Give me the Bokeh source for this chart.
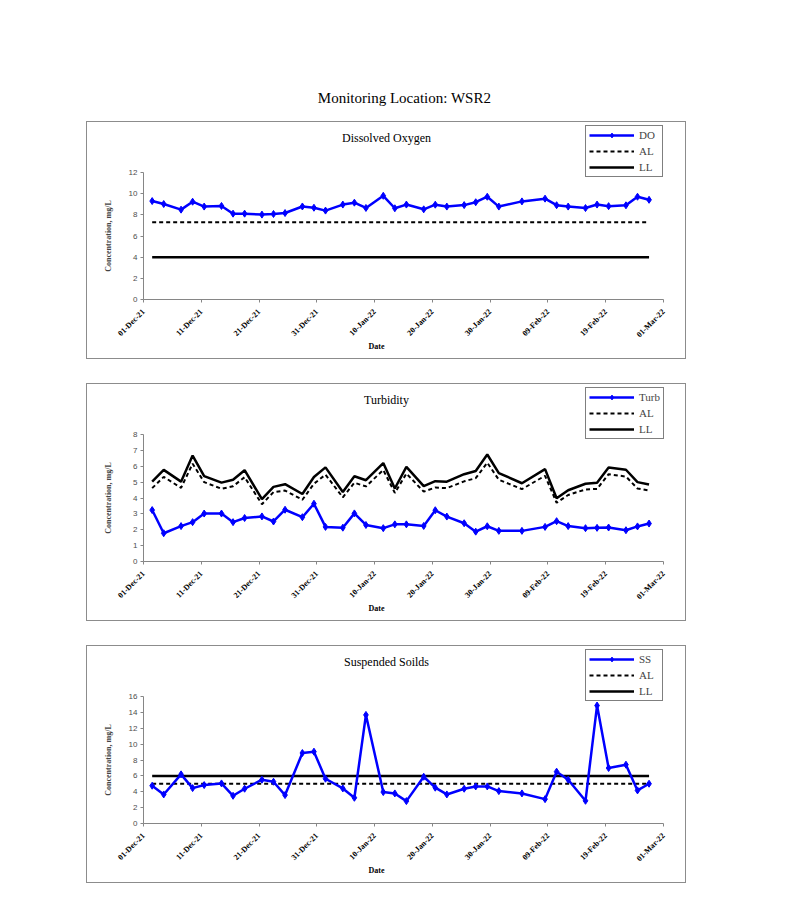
import math
import pandas as pd
from bokeh.plotting import figure
from bokeh.layouts import column, row
from bokeh.models import (Range1d, FixedTicker, DatetimeTickFormatter, Legend, LegendItem,
                          Label, Spacer, ColumnDataSource)
from bokeh.embed import file_html
from bokeh.resources import INLINE

# ---------------- data ----------------
PAGE_TITLE = "Monitoring Location: WSR2"

DATES = ["2021-12-02", "2021-12-04", "2021-12-07", "2021-12-09", "2021-12-11", "2021-12-14",
         "2021-12-16", "2021-12-18", "2021-12-21", "2021-12-23", "2021-12-25", "2021-12-28",
         "2021-12-30", "2022-01-01", "2022-01-04", "2022-01-06", "2022-01-08", "2022-01-11",
         "2022-01-13", "2022-01-15", "2022-01-18", "2022-01-20", "2022-01-22", "2022-01-25",
         "2022-01-27", "2022-01-29", "2022-01-31", "2022-02-04", "2022-02-08", "2022-02-10",
         "2022-02-12", "2022-02-15", "2022-02-17", "2022-02-19", "2022-02-22", "2022-02-24",
         "2022-02-26"]

DO = [9.30, 9.02, 8.49, 9.24, 8.78, 8.84, 8.11, 8.11, 8.02, 8.08, 8.17, 8.79,
      8.67, 8.40, 8.97, 9.15, 8.65, 9.80, 8.62, 8.97, 8.52, 8.96, 8.78, 8.92,
      9.19, 9.71, 8.78, 9.27, 9.53, 8.91, 8.78, 8.64, 8.97, 8.82, 8.90, 9.71, 9.42]
DO_AL = 7.3
DO_LL = 4.0

TURB = [3.24, 1.78, 2.23, 2.48, 3.02, 3.02, 2.48, 2.74, 2.84, 2.52, 3.26, 2.79,
        3.64, 2.18, 2.13, 3.03, 2.30, 2.10, 2.34, 2.34, 2.24, 3.23, 2.83, 2.41,
        1.88, 2.22, 1.93, 1.93, 2.18, 2.54, 2.23, 2.10, 2.12, 2.14, 1.97, 2.21, 2.39]
TURB_AL = [4.62, 5.33, 4.64, 6.16, 5.00, 4.58, 4.74, 5.31, 3.61, 4.37, 4.47, 3.89,
           4.90, 5.47, 4.04, 4.96, 4.73, 5.76, 4.32, 5.54, 4.40, 4.66, 4.62, 5.05,
           5.25, 6.22, 5.15, 4.56, 5.40, 3.70, 4.19, 4.54, 4.57, 5.50, 5.35, 4.60, 4.47]
TURB_LL = [5.03, 5.77, 5.03, 6.67, 5.38, 4.97, 5.15, 5.75, 3.93, 4.70, 4.87, 4.25,
           5.32, 5.93, 4.38, 5.37, 5.12, 6.20, 4.60, 5.96, 4.75, 5.06, 5.03, 5.50,
           5.70, 6.74, 5.57, 4.93, 5.82, 3.98, 4.49, 4.90, 4.96, 5.92, 5.78, 5.00, 4.85]

SS = [4.76, 3.66, 6.19, 4.46, 4.84, 5.05, 3.49, 4.38, 5.52, 5.26, 3.58, 8.88,
      9.05, 5.64, 4.42, 3.24, 13.68, 3.96, 3.79, 2.82, 5.89, 4.51, 3.66, 4.38,
      4.67, 4.67, 4.08, 3.79, 3.07, 6.53, 5.52, 2.86, 14.86, 6.99, 7.41, 4.17, 5.01]
SS_AL = 5.0
SS_LL = 6.0

X_START = "2021-12-01"
X_END = "2022-03-01"
X_TICKS = ["2021-12-01", "2021-12-11", "2021-12-21", "2021-12-31", "2022-01-10",
           "2022-01-20", "2022-01-30", "2022-02-09", "2022-02-19", "2022-03-01"]
DO_TICKS = [0, 2, 4, 6, 8, 10, 12]
TURB_TICKS = [0, 1, 2, 3, 4, 5, 6, 7, 8]
SS_TICKS = [0, 2, 4, 6, 8, 10, 12, 14, 16]

# ---------------- layout / style ----------------
BLUE = "#0000FF"
AXIS = "#868686"
SERIF = "Liberation Serif"
SANS = "Liberation Sans"
W, H = 600, 238                      # chart box (canvas) size
PL, PR, PT, PB = 56, 576, 50, 177    # plot area inside the canvas (px from left / top)


def ms(d):
    return pd.Timestamp(d).value / 1e6


def make_chart(title, name, vals, al, ll, ticks, ylab_standoff):
    # Excel date axis centres each daily value in the middle of its day slot
    xs = [pd.Timestamp(d) + pd.Timedelta(hours=12) for d in DATES]
    src = ColumnDataSource(dict(x=xs, v=vals, al=al, ll=ll))

    x0, x1 = ms(X_START), ms(X_END)
    kx = (PR - PL) / (x1 - x0)
    y0, y1 = ticks[0], ticks[-1]
    ky = (PB - PT) / (y1 - y0)
    p = figure(width=W, height=H, x_axis_type="datetime",
               x_range=Range1d(x0 - PL / kx, x1 + (W - PR) / kx),
               y_range=Range1d(y0 - (H - PB) / ky, y1 + PT / ky),
               output_backend="svg", toolbar_location=None, min_border=0)
    p.grid.visible = False
    p.outline_line_color = None
    p.background_fill_color = "white"
    p.border_fill_color = "white"
    p.styles = {"border": "1px solid #8c8c8c"}

    ll_r = p.line("x", "ll", source=src, line_color="black", line_width=2.5)
    al_r = p.line("x", "al", source=src, line_color="black", line_width=2,
                  line_dash="4 3")
    v_l = p.line("x", "v", source=src, line_color=BLUE, line_width=2.5)
    v_s = p.scatter("x", "v", source=src, marker="diamond", size=7,
                    fill_color=BLUE, line_color=BLUE)

    xa = p.xaxis[0]
    xa.fixed_location = y0
    xa.bounds = (x0, x1)
    xa.ticker = FixedTicker(ticks=[ms(t) for t in X_TICKS])
    fmt = "%d-%b-%y"
    xa.formatter = DatetimeTickFormatter(days=fmt, months=fmt, years=fmt, hours=fmt,
                                         hourmin=fmt, minutes=fmt, seconds=fmt,
                                         minsec=fmt, milliseconds=fmt, microseconds=fmt)
    xa.major_label_orientation = math.pi / 4
    xa.major_label_text_font = SERIF
    xa.major_label_text_font_style = "bold"
    xa.major_label_text_font_size = "8px"
    xa.major_label_text_color = "black"
    xa.major_label_standoff = 8
    xa.axis_line_color = AXIS
    xa.major_tick_line_color = AXIS
    xa.major_tick_out = 3
    xa.major_tick_in = 0
    xa.minor_tick_line_color = None

    ya = p.yaxis[0]
    ya.fixed_location = x0
    ya.bounds = (y0, y1)
    ya.ticker = FixedTicker(ticks=ticks)
    ya.major_label_text_font = SANS
    ya.major_label_text_font_size = "8px"
    ya.major_label_text_color = "#4d4d4d"
    ya.major_label_standoff = 3
    ya.axis_line_color = AXIS
    ya.major_tick_line_color = AXIS
    ya.major_tick_out = 3
    ya.major_tick_in = 0
    ya.minor_tick_line_color = None
    ya.axis_label = "Concentration, mg/L"
    ya.axis_label_text_font = SERIF
    ya.axis_label_text_font_style = "bold"
    ya.axis_label_text_font_size = "8px"
    ya.axis_label_standoff = ylab_standoff

    p.add_layout(Label(x=299, y=H - 15, x_units="screen", y_units="screen", text=title,
                       text_font=SERIF, text_font_size="12px", text_align="center",
                       text_baseline="middle", text_color="black"))
    p.add_layout(Label(x=289, y=H - 224, x_units="screen", y_units="screen", text="Date",
                       text_font=SERIF, text_font_style="bold", text_font_size="8px",
                       text_align="center", text_baseline="middle", text_color="black"))

    legend = Legend(items=[LegendItem(label=name, renderers=[v_l, v_s]),
                           LegendItem(label="AL", renderers=[al_r]),
                           LegendItem(label="LL", renderers=[ll_r])],
                    location=(498, H - 55))
    legend.border_line_color = "black"
    legend.border_line_width = 1
    legend.background_fill_color = "white"
    legend.background_fill_alpha = 1
    legend.label_text_font = SERIF
    legend.label_text_font_size = "11px"
    legend.glyph_width = 45
    legend.glyph_height = 12
    legend.label_height = 12
    legend.label_width = 20
    legend.label_standoff = 5
    legend.spacing = 4
    legend.padding = 3
    legend.margin = 0
    p.add_layout(legend)
    return p


n = len(DATES)
f1 = make_chart("Dissolved Oxygen", "DO", DO, [DO_AL] * n, [DO_LL] * n, DO_TICKS, 13)
f2 = make_chart("Turbidity", "Turb", TURB, TURB_AL, TURB_LL, TURB_TICKS, 17)
f3 = make_chart("Suspended Soilds", "SS", SS, [SS_AL] * n, [SS_LL] * n, SS_TICKS, 13)

t = figure(width=W, height=121, output_backend="svg", toolbar_location=None,
           min_border=0, x_axis_location=None, y_axis_location=None,
           x_range=Range1d(0, 1), y_range=Range1d(0, 1))
t.outline_line_color = None
t.grid.visible = False
t.add_layout(Label(x=318, y=24, x_units="screen", y_units="screen", text=PAGE_TITLE,
                   text_font=SERIF, text_font_size="15px", text_align="center",
                   text_baseline="middle", text_color="black"))

layout = row(Spacer(width=86),
             column(t, f1, Spacer(height=24), f2, Spacer(height=24), f3))

open("out.html", "w").write(file_html(layout, INLINE, title="WSR2"))
